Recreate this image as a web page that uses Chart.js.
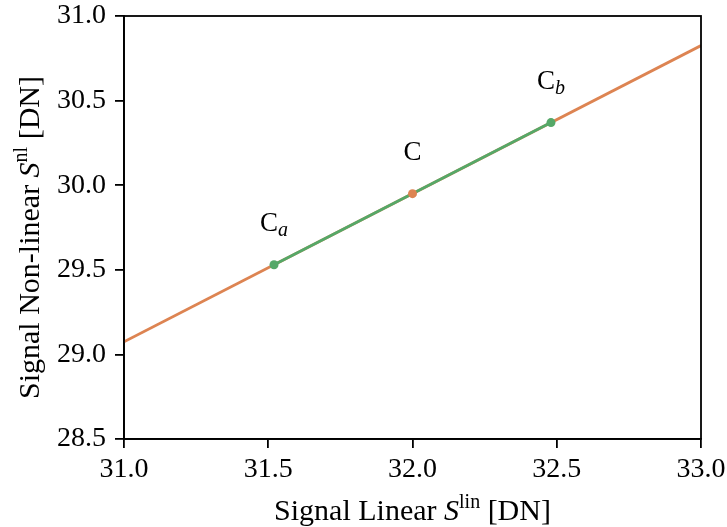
<!DOCTYPE html>
<html lang="en">
<head>
    <meta charset="UTF-8">
    <title>Signal Linear vs Non-linear</title>
    <script src="https://cdn.jsdelivr.net/npm/chart.js"></script>
    <style>
        body {
            margin: 0;
            padding: 0;
            background: white;
        }

        .chart-container {
            width: 727px;
            height: 527px;
        }
    </style>
</head>
<body>
    <div class="chart-container">
        <canvas id="signalChart" width="727" height="527"></canvas>
    </div>

    <script>
        // full fitted curve (orange)
        const fitX = [31.0, 33.0];
        const fitY = [29.075, 30.825];

        // segment between Ca and Cb (green)
        const segX = [31.52, 32.48];
        const segY = [29.53, 30.37];

        // marked points
        const pointMain = ['C', 'C', 'C'];
        const pointSub = ['a', '', 'b'];
        const pointX = [31.52, 32.0, 32.48];
        const pointY = [29.53, 29.95, 30.37];

        const xTicks = [31.0, 31.5, 32.0, 32.5, 33.0];
        const yTicks = [28.5, 29.0, 29.5, 30.0, 30.5, 31.0];

        const ORANGE = '#dd8452';
        const GREEN = '#55a868';
        const SERIF = '"Liberation Serif", "DejaVu Serif", serif';

        const toXY = (xs, ys) => xs.map((x, i) => ({ x: x, y: ys[i] }));

        // draws a row of text pieces (normal / italic / raised / lowered) centred at cx, baseline y
        const drawPieces = (ctx, pieces, cx, y) => {
            let total = 0;
            pieces.forEach(p => {
                ctx.font = p.font;
                p.w = ctx.measureText(p.text).width;
                total += p.w;
            });
            let x = cx - total / 2;
            ctx.textAlign = 'left';
            ctx.textBaseline = 'alphabetic';
            pieces.forEach(p => {
                ctx.font = p.font;
                ctx.fillText(p.text, x, y + (p.dy || 0));
                x += p.w;
            });
        };

        const extrasPlugin = {
            id: 'extras',
            afterDraw(chart) {
                const ctx = chart.ctx;
                const area = chart.chartArea;
                const xs = chart.scales.x;
                const ys = chart.scales.y;

                ctx.save();
                // frame
                ctx.strokeStyle = '#000';
                ctx.lineWidth = 1.8;
                ctx.strokeRect(area.left, area.top, area.right - area.left, area.bottom - area.top);

                ctx.fillStyle = '#000';
                // point labels
                pointMain.forEach((m, i) => {
                    const px = xs.getPixelForValue(pointX[i]);
                    const py = ys.getPixelForValue(pointY[i]);
                    const pieces = [{ text: m, font: '27px ' + SERIF }];
                    if (pointSub[i]) {
                        pieces.push({ text: pointSub[i], font: 'italic 20px ' + SERIF, dy: 5 });
                    }
                    drawPieces(ctx, pieces, px, py - 34);
                });

                // x axis title
                drawPieces(ctx, [
                    { text: 'Signal Linear ', font: '30px ' + SERIF },
                    { text: 'S', font: 'italic 30px ' + SERIF },
                    { text: 'lin', font: '20px ' + SERIF, dy: -12 },
                    { text: ' [DN]', font: '30px ' + SERIF }
                ], (area.left + area.right) / 2, 520);

                // y axis title
                ctx.translate(39, (area.top + area.bottom) / 2 + 10);
                ctx.rotate(-Math.PI / 2);
                drawPieces(ctx, [
                    { text: 'Signal Non-linear ', font: '30px ' + SERIF },
                    { text: 'S', font: 'italic 30px ' + SERIF },
                    { text: 'nl', font: '20px ' + SERIF, dy: -12 },
                    { text: ' [DN]', font: '30px ' + SERIF }
                ], 0, 0);
                ctx.restore();
            }
        };

        const tickStyle = {
            color: '#000',
            font: { family: SERIF, size: 28 }
        };

        const ctx = document.getElementById('signalChart').getContext('2d');
        new Chart(ctx, {
            type: 'scatter',
            data: {
                datasets: [
                    {
                        data: toXY(fitX, fitY),
                        showLine: true,
                        borderColor: ORANGE,
                        borderWidth: 2.8,
                        pointRadius: 0,
                        order: 4
                    },
                    {
                        data: toXY(segX, segY),
                        showLine: true,
                        borderColor: GREEN,
                        borderWidth: 2.8,
                        pointRadius: 0,
                        order: 3
                    },
                    {
                        data: [0, 2].map(i => ({ x: pointX[i], y: pointY[i] })),
                        showLine: false,
                        pointRadius: 4.5,
                        pointBackgroundColor: GREEN,
                        pointBorderWidth: 0,
                        order: 2
                    },
                    {
                        data: [{ x: pointX[1], y: pointY[1] }],
                        showLine: false,
                        pointRadius: 4.5,
                        pointBackgroundColor: ORANGE,
                        pointBorderWidth: 0,
                        order: 1
                    }
                ]
            },
            options: {
                responsive: false,
                animation: false,
                layout: { padding: { top: 16, right: 26, left: 0, bottom: 0 } },
                plugins: {
                    legend: { display: false },
                    tooltip: { enabled: false }
                },
                scales: {
                    x: {
                        type: 'linear',
                        min: xTicks[0],
                        max: xTicks[xTicks.length - 1],
                        afterBuildTicks: s => { s.ticks = xTicks.map(v => ({ value: v })); },
                        afterFit: s => { s.height = 88; s.paddingLeft = 0; s.paddingRight = 0; },
                        ticks: Object.assign({ padding: 5, callback: v => v.toFixed(1) }, tickStyle),
                        grid: { drawOnChartArea: false, drawTicks: true, tickLength: 9, color: '#000', lineWidth: 1.8 },
                        border: { color: '#000', width: 1.8 }
                    },
                    y: {
                        type: 'linear',
                        min: yTicks[0],
                        max: yTicks[yTicks.length - 1],
                        afterBuildTicks: s => { s.ticks = yTicks.map(v => ({ value: v })); },
                        afterFit: s => { s.width = 124; s.paddingTop = 0; s.paddingBottom = 0; },
                        ticks: Object.assign({ padding: 9, callback: v => v.toFixed(1) }, tickStyle),
                        grid: { drawOnChartArea: false, drawTicks: true, tickLength: 9, color: '#000', lineWidth: 1.8 },
                        border: { color: '#000', width: 1.8 }
                    }
                }
            },
            plugins: [extrasPlugin]
        });
    </script>
</body>
</html>
